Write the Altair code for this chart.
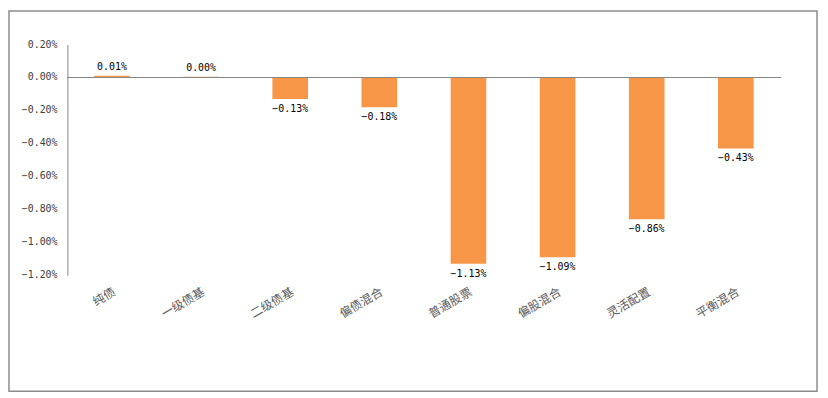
import altair as alt
import pandas as pd

categories = ["纯债", "一级债基", "二级债基", "偏债混合", "普通股票", "偏股混合", "灵活配置", "平衡混合"]
values_pct = [0.01, 0.004, -0.13, -0.18, -1.13, -1.09, -0.86, -0.43]
y_ticks_pct = [0.2, 0.0, -0.2, -0.4, -0.6, -0.8, -1.0, -1.2]

df = pd.DataFrame({
    "cat": categories,
    "val": values_pct,
})
ticks_df = pd.DataFrame({"val": y_ticks_pct})

W, H = 720, 233
PAD_L, PAD_T, PAD_R, PAD_B = 60, 35, 40, 120

x_scale = alt.Scale(paddingInner=0.6, paddingOuter=0.3)
x_axis = alt.Axis(labelAngle=-30, labelAlign="right", labelBaseline="top",
                  labelPadding=11, ticks=False, domain=False,
                  labelFont="Noto Sans CJK SC", labelFontSize=12,
                  labelColor="#595959")
y_scale = alt.Scale(domain=[-1.2, 0.2], nice=False, zero=False)
y_axis = alt.Axis(values=y_ticks_pct, labels=False,
                  grid=False, ticks=False, domain=True, domainColor="#868686")

x_enc = alt.X("cat:N", sort=categories, title=None, scale=x_scale, axis=x_axis)
y_enc = alt.Y("val:Q", scale=y_scale, title=None, axis=y_axis)

base = alt.Chart(df).transform_calculate(lbl="format(datum.val, '.2f') + '%'")

bars = base.mark_bar(color="#F79646").encode(x=x_enc, y=y_enc, y2=alt.datum(0))

zero = base.mark_rule(color="#868686", strokeWidth=1).encode(y=alt.datum(0))

lab_pos = base.transform_filter("datum.val >= 0").mark_text(
    baseline="bottom", dy=-4, font="DejaVu Sans Mono", fontSize=10, color="#000000"
).encode(x=x_enc, y=y_enc, text="lbl:N")

lab_neg = base.transform_filter("datum.val < 0").mark_text(
    baseline="top", dy=5, font="DejaVu Sans Mono", fontSize=10, color="#000000"
).encode(x=x_enc, y=y_enc, text="lbl:N")

ylabels = alt.Chart(ticks_df).transform_calculate(
    lbl="format(datum.val, '.2f') + '%'"
).mark_text(align="right", baseline="middle", font="DejaVu Sans Mono",
            fontSize=10, color="#404040").encode(
    x=alt.value(-10), y=y_enc, text="lbl:N")

frame = alt.Chart(pd.DataFrame({"f": [0]})).mark_rect(
    fill=None, stroke="#8c8c8c", strokeWidth=1.5
).encode(x=alt.value(-PAD_L + 1), x2=alt.value(757), y=alt.value(-PAD_T + 1), y2=alt.value(350))

chart = alt.layer(frame, bars, zero, lab_pos, lab_neg, ylabels).properties(
    width=W, height=H,
    background="white",
    autosize=alt.AutoSizeParams(type="none"),
    padding={"left": PAD_L, "top": PAD_T, "right": PAD_R, "bottom": PAD_B},
).configure_view(strokeWidth=0, stroke=None)

chart.save("out.html", embed_options={"renderer": "svg", "actions": False})
